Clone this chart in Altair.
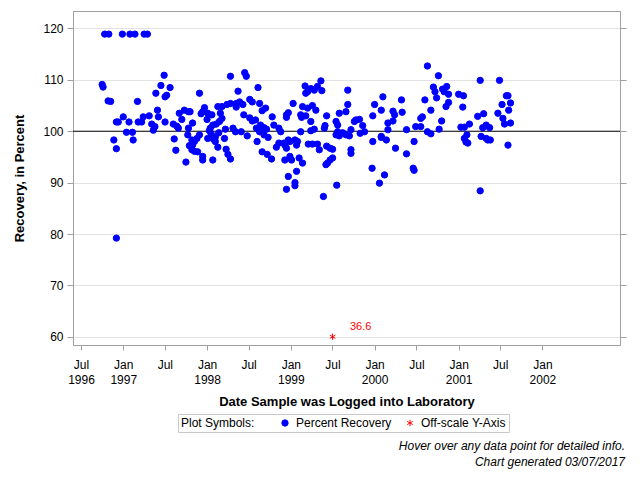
import altair as alt
import pandas as pd
import numpy as np

# ---- data (decimal year of log date, percent recovery) ----
sample_year = [
    1996.78, 1996.83, 1996.99, 1997.08, 1997.14, 1997.25, 1997.29,
    1996.75, 1996.76, 1996.82, 1996.85,
    1997.17, 1997.49, 1997.45, 1997.56, 1997.39, 1997.52, 1997.50, 1997.41,
    1997.00, 1996.94, 1996.92, 1997.07, 1997.18, 1997.22, 1997.24, 1997.31, 1997.42, 1997.34,
    1997.38, 1997.50, 1997.60, 1997.64, 1997.67, 1997.73, 1997.78, 1997.70, 1997.83, 1997.04,
    1997.11, 1997.36, 1997.78,
    1996.89, 1996.92, 1997.12, 1997.61, 1997.63, 1997.75, 1997.77, 1997.79, 1997.82, 1997.85,
    1997.82, 1996.92, 1997.66,
    1998.28, 1998.45, 1998.47, 1997.91, 1998.61, 1998.37, 1997.80, 1997.97, 1997.95, 1997.93,
    1998.01, 1998.06, 1998.00,
    1998.13, 1998.18, 1998.24, 1998.28, 1998.35, 1998.39, 1998.43, 1998.51, 1998.54, 1998.63,
    1998.35, 1998.16, 1998.18, 1998.70, 1998.66, 1998.44, 1998.51, 1998.54, 1998.58, 1998.64,
    1998.68, 1998.71, 1998.78, 1998.80, 1998.86, 1998.88, 1998.95, 1998.97,
    1998.15, 1998.11, 1998.07, 1998.04, 1998.03, 1998.05, 1998.10, 1998.14,
    1998.22, 1998.31, 1998.34, 1998.41, 1998.48, 1998.59, 1998.63, 1998.68, 1998.73,
    1998.01, 1998.08, 1998.10, 1998.21,
    1997.91, 1997.88, 1997.85, 1997.83,
    1998.13, 1998.23, 1998.25, 1998.28, 1998.07,
    1997.95, 1997.89, 1997.95,
    1998.60, 1998.66, 1998.72, 1998.77, 1998.83, 1998.86, 1998.92, 1998.93,
    1998.97, 1998.95,
    1999.36, 1999.32, 1999.28, 1999.24, 1999.20, 1999.17, 1999.18, 1999.37, 1999.68,
    1999.03, 1998.95,
    1999.14, 1999.20, 1999.26, 1999.30, 1999.12, 1999.13, 1999.18,
    1999.24, 1999.24, 1999.28, 1999.43, 1999.41, 1999.40,
    1999.68, 1999.66, 1999.58, 1999.54, 1999.56,
    1999.56, 1999.54, 1999.58, 1999.62, 1999.66, 1999.70, 1999.72, 1999.76, 1999.78, 1999.82,
    1999.86, 1999.88, 1999.83,
    2000.00, 1999.98, 2000.08, 2000.10,
    1999.12,
    1998.97, 1998.99, 1998.93, 1998.95, 1999.07, 1999.08, 1999.05,
    1999.21, 1999.26, 1999.32, 1999.34, 1999.43, 1999.47, 1999.50,
    1999.50, 1999.47, 1999.44, 1999.42,
    1999.72, 1999.72,
    1998.99, 1999.01, 1999.10, 1999.14, 1999.07, 1999.05, 1999.05,
    1999.55, 1999.39,
    1999.98, 2000.08, 1999.97, 2000.06, 2000.12,
    2000.63, 2000.76, 2000.70, 2000.72, 2000.74, 2000.81, 2000.83, 2000.86, 2000.88, 2001.00,
    2000.60, 2000.67, 2000.85, 2000.88,
    2000.22, 2000.24, 2000.32, 2000.33,
    2000.16, 2000.22, 2000.16, 2000.08, 2000.14,
    2000.38, 2000.49, 2000.55, 2000.55, 2000.57, 2000.63, 2000.67, 2000.77, 2000.80,
    2000.47, 2000.38, 2000.25, 2000.46, 2000.47,
    2001.26, 2001.49, 2001.06, 2001.05,
    2001.57, 2001.59, 2001.52, 2001.62, 2001.60, 2001.47, 2001.53, 2001.55, 2001.62,
    2001.23, 2001.30,
    2001.03, 2001.07, 2001.13, 2001.10, 2001.07, 2001.11, 2001.09,
    2001.29, 2001.33, 2001.37, 2001.27, 2001.33, 2001.38, 2001.35,
    2001.59, 2001.26,
]

recovery_pct = [
    118.9, 118.9, 118.9, 118.9, 118.9, 118.9, 118.9,
    109.1, 108.6, 105.9, 105.8,
    105.8, 110.9, 108.9, 108.5, 107.4, 107.0, 106.7, 104.1,
    102.8, 101.8, 101.8, 101.8, 101.8, 101.8, 102.8, 103.0, 102.8, 101.4,
    100.9, 101.8, 101.4, 101.0, 103.5, 104.1, 103.8, 102.3, 101.6, 99.8,
    99.8, 100.2, 100.6,
    98.3, 96.6, 98.3, 98.5, 96.3, 94.0, 99.3, 97.2, 96.4, 96.1,
    98.3, 79.2, 100.6,
    110.7, 111.4, 110.7, 107.4, 108.5, 107.8, 103.8, 104.6, 103.8, 103.4,
    103.5, 103.2, 102.3,
    104.8, 104.8, 105.2, 105.4, 105.4, 105.7, 105.2, 106.2, 105.7, 105.4,
    104.7, 103.5, 102.5, 104.5, 104.0, 103.2, 102.6, 102.0, 102.2, 101.2,
    100.7, 100.4, 102.8, 101.2, 100.6, 99.9, 103.2, 103.6,
    101.9, 101.4, 101.2, 100.6, 100.1, 99.5, 98.9, 99.7,
    100.4, 100.6, 99.9, 99.9, 99.1, 100.6, 99.9, 99.3, 98.8,
    98.6, 98.4, 98.0, 98.6,
    99.3, 98.6, 98.0, 97.3,
    96.9, 96.5, 95.5, 94.6, 94.4,
    95.1, 96.0, 94.4,
    98.0, 96.0, 95.5, 94.6, 96.9, 97.7, 97.7, 94.4,
    91.2, 88.7,
    109.8, 108.7, 108.0, 108.3, 107.7, 108.8, 107.4, 107.9, 108.0,
    105.4, 102.7,
    104.8, 104.5, 105.0, 104.1, 103.2, 102.7, 103.0,
    101.9, 100.1, 100.4, 103.0, 101.1, 100.6,
    105.2, 103.8, 103.5, 101.9, 101.2,
    99.9, 99.3, 99.1, 99.7, 99.3, 99.1, 100.3, 101.9, 102.2, 102.3,
    101.1, 99.9, 99.6,
    105.2, 103.0, 104.1, 106.7,
    99.9,
    98.3, 98.0, 97.3, 96.7, 97.3, 98.0, 98.3,
    97.5, 97.5, 97.5, 96.4, 97.1, 96.7, 96.5,
    94.8, 94.4, 93.8, 93.5,
    96.4, 95.7,
    95.1, 94.4, 94.8, 93.8, 92.2, 90.0, 89.4,
    89.5, 87.3,
    98.0, 98.8, 92.8, 89.9, 91.5,
    112.7, 110.8, 108.6, 107.7, 106.5, 108.2, 107.7, 108.7, 107.2, 107.2,
    106.1, 104.1, 104.8, 105.6,
    103.9, 103.2, 106.1, 103.7,
    101.6, 102.0, 100.3, 99.0, 98.3,
    100.3, 100.9, 100.9, 102.5, 102.8, 99.9, 99.5, 100.4, 102.0,
    98.0, 95.6, 96.7, 92.8, 92.4,
    109.9, 109.9, 106.9, 104.7,
    106.9, 106.9, 105.2, 105.5, 104.1, 103.5, 102.5, 101.4, 101.6,
    102.9, 103.4,
    100.8, 100.8, 101.4, 99.3, 98.6, 97.7, 97.9,
    100.7, 101.2, 100.7, 99.0, 98.6, 98.3, 98.3,
    97.3, 88.4,
]

offscale_year = [1999.50]
offscale_value = [36.6]

y_floor = 60
y_ticks = [60, 70, 80, 90, 100, 110, 120]
x_tick_dates = [(1996, 7), (1997, 1), (1997, 7), (1998, 1), (1998, 7), (1999, 1),
                (1999, 7), (2000, 1), (2000, 7), (2001, 1), (2001, 7), (2002, 1)]
legend_labels = ["Percent Recovery", "Off-scale Y-Axis"]
footnotes = ["Hover over any data point for detailed info.", "Chart generated 03/07/2017"]


def to_date(y):
    yi = int(y)
    frac = y - yi
    start = pd.Timestamp(yi, 1, 1)
    end = pd.Timestamp(yi + 1, 1, 1)
    return (start + (end - start) * frac).strftime("%Y-%m-%d")


df = pd.DataFrame({
    "date": [to_date(y) for y in sample_year + offscale_year],
    "value": recovery_pct + offscale_value,
    "kind": [legend_labels[0]] * len(sample_year) + [legend_labels[1]] * len(offscale_year),
})
df["plot_y"] = df["value"].clip(lower=y_floor)
df["label"] = np.where(df["kind"] == legend_labels[1], df["value"].map(lambda v: f"{v:.1f}"), "")

FONT = "Liberation Sans"
GRAY = "#a0a0a0"
asterisk = "M0,-1L0,1M-0.87,-0.5L0.87,0.5M-0.87,0.5L0.87,-0.5"

x_scale = alt.Scale(
    type="utc",
    domain=[alt.DateTime(year=1996, month=5, date=27, utc=True),
            alt.DateTime(year=2002, month=12, date=5, utc=True)],
)
y_scale = alt.Scale(domain=[58.4, 123.4], nice=False, zero=False)

x_axis = alt.Axis(
    values=[alt.DateTime(year=y, month=m, date=1, utc=True) for y, m in x_tick_dates],
    labelExpr="utcmonth(datum.value) == 0 ? ['Jan', '' + utcyear(datum.value)] : "
              "(utcyear(datum.value) == 1996 ? ['Jul', '1996'] : ['Jul', ''])",
    title="Date Sample was Logged into Laboratory",
    grid=False, tickSize=5, labelPadding=9, labelLineHeight=15,
    labelBaseline="top", titlePadding=10, labelFlush=False, labelOverlap=False,
)

legend = alt.Legend(
    title="Plot Symbols:", orient="none", legendX=105, legendY=403,
    direction="horizontal", titleOrient="left", titlePadding=24,
    strokeColor="#c8c8c8", padding=3, fillColor="white",
    labelFontSize=12, titleFontSize=12, titleFontWeight="normal",
    labelFont=FONT, titleFont=FONT, titleColor="black", labelColor="black",
    symbolSize=40, symbolStrokeWidth=1, columnPadding=12, labelOffset=5,
)

base = alt.Chart(df)

points = base.mark_point(filled=True, size=40, strokeWidth=1, opacity=1).encode(
    x=alt.X("date:T", scale=x_scale, axis=x_axis),
    y=alt.Y("plot_y:Q", scale=y_scale,
            axis=alt.Axis(values=y_ticks, title="Recovery, in Percent", grid=True,
                          gridColor="#e2e2e2", tickSize=6, labelPadding=4, titlePadding=16)),
    color=alt.Color("kind:N", scale=alt.Scale(domain=legend_labels, range=["#0000FF", "#FF0000"]),
                    legend=legend),
    stroke=alt.Stroke("kind:N", scale=alt.Scale(domain=legend_labels, range=["#0000FF", "#FF0000"]),
                      legend=legend),
    shape=alt.Shape("kind:N", scale=alt.Scale(domain=legend_labels, range=["circle", asterisk]),
                    legend=legend),
)

labels = base.transform_filter(alt.datum.kind == legend_labels[1]).mark_text(
    color="#FF0000", dx=28, dy=-10, fontSize=11, font=FONT
).encode(
    x=alt.X("date:T", scale=x_scale, axis=x_axis),
    y=alt.Y("plot_y:Q", scale=y_scale, axis=None),
    text="label:N",
)

ref = alt.Chart(pd.DataFrame({"ref": [100]})).mark_rule(color="black", strokeWidth=1).encode(
    y=alt.Y("ref:Q", scale=y_scale,
            axis=alt.Axis(orient="right", labels=False, title=None, grid=False,
                          values=y_ticks, tickSize=6)),
)

notes = alt.Chart(pd.DataFrame({"n": [0]})).mark_text(
    text=footnotes, align="right", baseline="middle", fontStyle="italic",
    fontSize=12, font=FONT, color="black", lineHeight=16,
).encode(x=alt.value(552), y=alt.value(435))

chart = alt.layer(ref, points, labels, notes).resolve_axis(y="independent").properties(
    width=547, height=334,
    autosize=alt.AutoSizeParams(type="none"),
    padding={"left": 65, "top": 3, "right": 12, "bottom": 127},
).configure_view(stroke=GRAY).configure_axis(
    domainColor=GRAY, tickColor=GRAY, labelColor="black", labelFont=FONT,
    labelFontSize=12, titleFont=FONT, titleFontSize=13, titleFontWeight="bold",
    titleColor="black",
)

chart.save("out.html", embed_options={"renderer": "svg", "actions": False})
